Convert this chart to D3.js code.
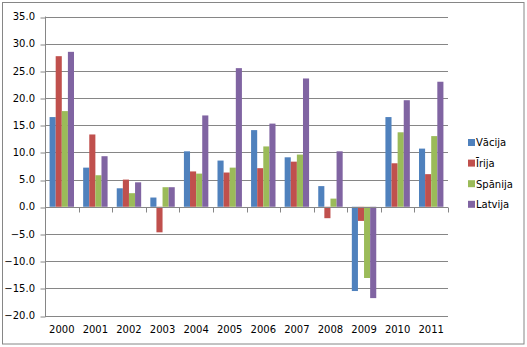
<!DOCTYPE html>
<html>
<head>
<meta charset="utf-8">
<script src="https://cdn.jsdelivr.net/npm/d3@7"></script>
<style>
  html, body { margin: 0; padding: 0; background: #fff; }
  svg { display: block; }
  text { font-family: "DejaVu Sans", Verdana, sans-serif; font-size: 10px; fill: #000; }
</style>
</head>
<body>
<svg id="chart" width="527" height="347"></svg>
<script>
// Annual values per country, 2000–2011
const years = ["2000","2001","2002","2003","2004","2005","2006","2007","2008","2009","2010","2011"];
const seriesNames = ["Vācija", "Īrija", "Spānija", "Latvija"];
const vacija  = [16.5, 7.2, 3.4, 1.7, 10.2, 8.5, 14.1, 9.1, 3.8, -15.5, 16.5, 10.7];
const irija   = [27.7, 13.3, 5.0, -4.7, 6.5, 6.3, 7.1, 8.3, -2.1, -2.6, 8.0, 6.0];
const spanija = [17.6, 5.8, 2.5, 3.6, 6.1, 7.2, 11.1, 9.6, 1.5, -13.1, 13.7, 13.0];
const latvija = [28.5, 9.3, 4.5, 3.6, 16.8, 25.5, 15.3, 23.6, 10.2, -16.8, 19.6, 23.0];
const yTicks = [35, 30, 25, 20, 15, 10, 5, 0, -5, -10, -15, -20];
const colors = ["#4F81BD", "#C0504D", "#9BBB59", "#8064A2"];

const seriesValues = [vacija, irija, spanija, latvija];

const svg = d3.select("#chart");
const plot = { left: 45, right: 448, top: 16.5, bottom: 315.5 };

// Outer chart border
svg.append("rect")
  .attr("x", 2.5).attr("y", 2.5)
  .attr("width", 521.5).attr("height", 341.5)
  .attr("fill", "#fff").attr("stroke", "#868686").attr("stroke-width", 1);

const y = d3.scaleLinear().domain([-20, 35]).range([plot.bottom, plot.top]);
const x = d3.scaleBand().domain(years).range([plot.left, plot.right]).paddingInner(0).paddingOuter(0);
// Four touching bars per year with a gap of 1.5 bar widths between groups
const inner = d3.scaleBand().domain(d3.range(seriesNames.length))
  .range([0, x.bandwidth()]).paddingInner(0).paddingOuter(0.75);

// Gridlines
svg.append("g").selectAll("line").data(yTicks).join("line")
  .attr("x1", plot.left).attr("x2", plot.right)
  .attr("y1", d => Math.round(y(d)) + 0.5).attr("y2", d => Math.round(y(d)) + 0.5)
  .attr("stroke", "#868686").attr("stroke-width", 1);

// Y axis
const yAxis = d3.axisLeft(y).tickValues(yTicks).tickSize(5).tickPadding(5)
  .tickFormat(d3.format(".1f"));
const gy = svg.append("g").attr("transform", `translate(${plot.left + 0.5},0)`).call(yAxis);
gy.select(".domain").attr("stroke", "#868686").attr("d", `M0,${plot.top}V${plot.bottom + 0.5}`);
gy.selectAll(".tick line").attr("stroke", "#868686")
  .attr("transform", function(d) { return `translate(0,${Math.round(y(d)) + 0.5 - y(d)})`; });
gy.selectAll(".tick text").attr("font-family", "DejaVu Sans").attr("font-size", 10).attr("dx", "-0.5");

// Bars
const groups = svg.append("g").selectAll("g").data(years).join("g")
  .attr("transform", d => `translate(${x(d)},0)`);
groups.selectAll("rect")
  .data((yr, i) => seriesValues.map((vals, s) => ({ s, v: vals[i] })))
  .join("rect")
  .attr("x", d => inner(d.s))
  .attr("width", inner.bandwidth())
  .attr("y", d => y(Math.max(0, d.v)))
  .attr("height", d => Math.abs(y(d.v) - y(0)))
  .attr("fill", d => colors[d.s]);

// X axis along zero line with ticks at category boundaries
const zeroY = Math.round(y(0)) + 0.5;
svg.append("line")
  .attr("x1", plot.left).attr("x2", plot.right)
  .attr("y1", zeroY).attr("y2", zeroY)
  .attr("stroke", "#868686");
const boundaries = years.map(d => x(d)).concat([plot.right]);
svg.append("g").selectAll("line").data(boundaries).join("line")
  .attr("x1", d => Math.round(d) + 0.5).attr("x2", d => Math.round(d) + 0.5)
  .attr("y1", zeroY).attr("y2", zeroY + 5)
  .attr("stroke", "#868686");

// Category labels below the plot
svg.append("g").selectAll("text").data(years).join("text")
  .attr("x", d => x(d) + x.bandwidth() / 2)
  .attr("y", 333)
  .attr("text-anchor", "middle")
  .text(d => d);

// Legend
const legend = svg.append("g").selectAll("g").data(seriesNames).join("g")
  .attr("transform", (d, i) => `translate(468,${142.5 + i * 20.6})`);
legend.append("rect")
  .attr("x", 0).attr("y", -3.5).attr("width", 7).attr("height", 7)
  .attr("fill", (d, i) => colors[i]);
legend.append("text")
  .attr("x", 8).attr("y", 3.8)
  .text(d => d);
</script>
</body>
</html>
